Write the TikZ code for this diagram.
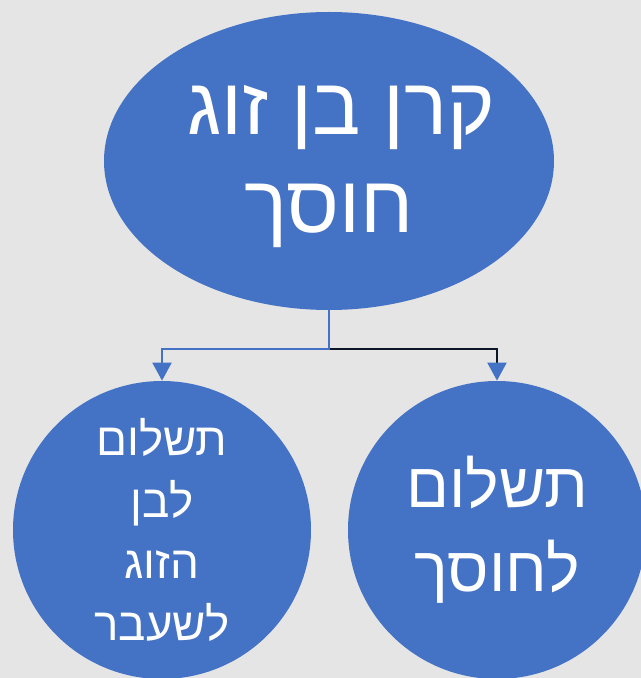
\documentclass[tikz,border=0pt]{standalone}
\usepackage{fontspec}
\newfontfamily\hebfont[Script=Hebrew]{Liberation Sans}
\TeXXeTstate=1
\usetikzlibrary{shapes.geometric,positioning,arrows.meta}
\definecolor{bubbleblue}{HTML}{4472C4}
\definecolor{bggray}{HTML}{E5E5E5}
\definecolor{darkline}{HTML}{0C1628}
\tikzset{
  bubble/.style={fill=bubbleblue, text=white, align=center, inner sep=0pt},
  link/.style={line width=1.2pt, -{Triangle[length=0.36cm,width=0.38cm,color=bubbleblue]}},
}
\begin{document}
\begin{tikzpicture}
  \fill[bggray] (0,0) rectangle (12.82,13.56);

  \node[bubble, ellipse, minimum width=9cm, minimum height=5.96cm, inner xsep=-0.4cm,
    font=\hebfont\fontsize{46}{56}\selectfont] (top) at (6.58,10.34)
    {\rule{0pt}{34pt}\hspace*{0.5cm}\beginR קרן בן זוג\endR\\ \beginR חוסך\endR};
  \node[bubble, circle, minimum size=5.96cm,
    font=\hebfont\fontsize{26}{35}\selectfont] (prev) at (3.24,2.96)
    {\beginR תשלום\endR\\ \beginR לבן\endR\\ \beginR הזוג\endR\\ \beginR לשעבר\endR};
  \node[bubble, circle, minimum size=5.96cm,
    font=\hebfont\fontsize{36}{48}\selectfont] (saver) at (9.94,2.96)
    {\beginR תשלום\endR\\ \beginR לחוסך\endR};

  \coordinate[below=0.78cm of top] (split);
  \draw[link, darkline] (split) -| (saver.north);
  \draw[link, bubbleblue] (top.south) -- (split) -| (prev.north);

  \pgfresetboundingbox
  \useasboundingbox (0,0) rectangle (12.82,13.56);
\end{tikzpicture}
\end{document}
